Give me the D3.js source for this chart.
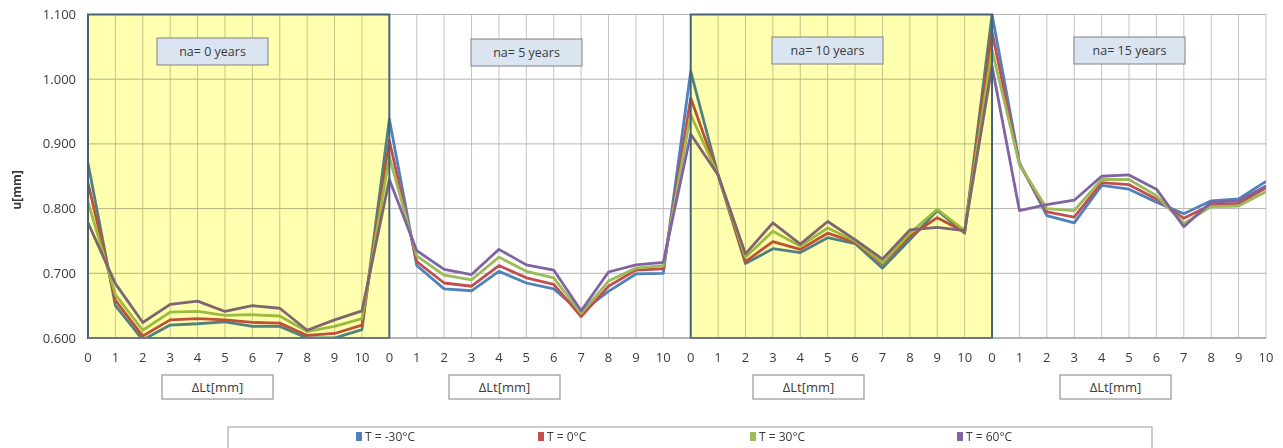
<!DOCTYPE html>
<html>
  <head>
    <meta charset="utf-8" />
    <title>u[mm] vs ΔLt</title>
    <script src="https://d3js.org/d3.v7.min.js"></script>
    <style>
      body { margin: 0; background: #fff; }
      text { font-family: "Open Sans", "Liberation Sans", sans-serif; fill: #3a3a3a; }
    </style>
  </head>
  <body>
    <svg width="1283" height="448"></svg>

    <script>
      // ΔLt tick labels, repeated for each panel
      const xLabels = ["0", "1", "2", "3", "4", "5", "6", "7", "8", "9", "10"];
      const panels = ["na= 0 years", "na= 5 years", "na= 10 years", "na= 15 years"];
      const yTicks = [0.6, 0.7, 0.8, 0.9, 1.0, 1.1];

      // u[mm] for each temperature, 4 panels x 11 points
      const tMinus30 = [
        0.870, 0.650, 0.597, 0.620, 0.622, 0.625, 0.618, 0.618, 0.600, 0.600, 0.613,
        0.938, 0.712, 0.676, 0.673, 0.703, 0.685, 0.676, 0.640, 0.672, 0.699, 0.700,
        1.012, 0.852, 0.715, 0.738, 0.732, 0.755, 0.746, 0.708, 0.752, 0.797, 0.762,
        1.100, 0.871, 0.789, 0.778, 0.836, 0.830, 0.810, 0.792, 0.812, 0.815, 0.842
      ];
      const t0 = [
        0.840, 0.658, 0.603, 0.628, 0.630, 0.628, 0.624, 0.623, 0.604, 0.607, 0.620,
        0.905, 0.718, 0.685, 0.680, 0.712, 0.693, 0.683, 0.633, 0.680, 0.705, 0.707,
        0.971, 0.852, 0.718, 0.749, 0.737, 0.762, 0.748, 0.714, 0.757, 0.786, 0.764,
        1.073, 0.868, 0.795, 0.787, 0.840, 0.837, 0.815, 0.785, 0.806, 0.808, 0.832
      ];
      const t30 = [
        0.810, 0.667, 0.612, 0.640, 0.641, 0.635, 0.636, 0.634, 0.610, 0.618, 0.630,
        0.880, 0.727, 0.697, 0.690, 0.725, 0.703, 0.693, 0.638, 0.688, 0.708, 0.712,
        0.945, 0.852, 0.725, 0.765, 0.742, 0.770, 0.750, 0.716, 0.762, 0.799, 0.766,
        1.045, 0.868, 0.800, 0.797, 0.845, 0.845, 0.820, 0.777, 0.803, 0.804, 0.826
      ];
      const t60 = [
        0.778, 0.684, 0.624, 0.652, 0.657, 0.641, 0.650, 0.646, 0.612, 0.628, 0.642,
        0.845, 0.735, 0.706, 0.698, 0.737, 0.713, 0.705, 0.642, 0.702, 0.713, 0.717,
        0.915, 0.852, 0.730, 0.778, 0.745, 0.780, 0.752, 0.722, 0.767, 0.771, 0.766,
        1.020, 0.797, 0.806, 0.813, 0.850, 0.852, 0.830, 0.772, 0.810, 0.812, 0.835
      ];

      const series = [
        { name: "T = -30°C", values: tMinus30, color: "#4f81bd" },
        { name: "T = 0°C", values: t0, color: "#c0504d" },
        { name: "T = 30°C", values: t30, color: "#9bbb59" },
        { name: "T = 60°C", values: t60, color: "#8064a2" }
      ];

      const svg = d3.select("svg");
      const plotL = 88, plotR = 1266, plotT = 14.5, plotB = 338;
      const n = panels.length * xLabels.length;

      const x = d3.scaleLinear().domain([0, n - 1]).range([plotL, plotR]);
      const y = d3.scaleLinear().domain([0.6, 1.1]).range([plotB, plotT]);

      svg.append("clipPath").attr("id", "plot")
        .append("rect").attr("x", plotL).attr("y", plotT).attr("width", plotR - plotL).attr("height", plotB - plotT);

      // grid
      svg.append("g").selectAll("line")
        .data(d3.range(n))
        .join("line")
        .attr("x1", d => x(d)).attr("x2", d => x(d))
        .attr("y1", plotT).attr("y2", plotB)
        .attr("stroke", "#c4c4c4").attr("stroke-width", 1);

      svg.append("g").selectAll("line")
        .data(yTicks)
        .join("line")
        .attr("x1", plotL).attr("x2", plotR)
        .attr("y1", d => y(d)).attr("y2", d => y(d))
        .attr("stroke", "#b4b4b4").attr("stroke-width", 1);

      // axis labels
      svg.append("g").selectAll("text")
        .data(yTicks)
        .join("text")
        .attr("x", 76).attr("y", d => y(d) + 4.5)
        .attr("text-anchor", "end")
        .style("font-size", "13px")
        .text(d => d3.format(".3f")(d));

      svg.append("g").selectAll("text")
        .data(d3.range(n))
        .join("text")
        .attr("x", d => x(d)).attr("y", 362)
        .attr("text-anchor", "middle")
        .style("font-size", "13px")
        .text(d => xLabels[d % xLabels.length]);

      svg.append("text")
        .attr("transform", "translate(21,190) rotate(-90)")
        .attr("text-anchor", "middle")
        .style("font-size", "12px").style("font-weight", "bold")
        .text("u[mm]");

      // lines
      const line = d3.line().x((d, i) => x(i)).y(d => y(d));
      svg.append("g").attr("clip-path", "url(#plot)")
        .selectAll("path")
        .data(series)
        .join("path")
        .attr("d", d => line(d.values))
        .attr("fill", "none")
        .attr("stroke", d => d.color)
        .attr("stroke-width", 2.8)
        .attr("stroke-linejoin", "round");

      // yellow shading for panels 1 and 3
      const shaded = [0, 2];
      const step = xLabels.length;
      svg.append("g").selectAll("rect")
        .data(shaded)
        .join("rect")
        .attr("x", d => x(d * step)).attr("y", plotT)
        .attr("width", x(step) - x(0)).attr("height", plotB - plotT)
        .attr("fill", "#ffffb0")
        .style("mix-blend-mode", "multiply");
      svg.append("g").selectAll("rect")
        .data(shaded)
        .join("rect")
        .attr("x", d => x(d * step)).attr("y", plotT)
        .attr("width", x(step) - x(0)).attr("height", plotB - plotT)
        .attr("fill", "none")
        .attr("stroke", "#46627a").attr("stroke-width", 2);

      svg.append("line")
        .attr("x1", plotL).attr("x2", plotR).attr("y1", plotB).attr("y2", plotB)
        .attr("stroke", "#8c8c8c").attr("stroke-width", 1);

      // panel titles
      const titleX = [157, 471, 772, 1074];
      const titleY = [38, 39, 37, 37];
      const titles = svg.append("g").selectAll("g")
        .data(panels)
        .join("g")
        .attr("transform", (d, i) => `translate(${titleX[i]},${titleY[i]})`);
      titles.append("rect")
        .attr("width", 111).attr("height", 27)
        .attr("fill", "#dbe5f1").attr("stroke", "#808080");
      titles.append("text")
        .attr("x", 55.5).attr("y", 18)
        .attr("text-anchor", "middle")
        .style("font-size", "12.5px")
        .text(d => d);

      // ΔLt boxes
      const boxX = [162, 449, 753, 1060];
      const boxes = svg.append("g").selectAll("g")
        .data(boxX)
        .join("g")
        .attr("transform", d => `translate(${d},375)`);
      boxes.append("rect")
        .attr("width", 111).attr("height", 24)
        .attr("fill", "#fff").attr("stroke", "#808080");
      boxes.append("text")
        .attr("x", 55.5).attr("y", 17)
        .attr("text-anchor", "middle")
        .style("font-size", "13px")
        .text("ΔLt[mm]");

      // legend
      svg.append("rect")
        .attr("x", 228).attr("y", 427).attr("width", 924).attr("height", 26)
        .attr("fill", "#fff").attr("stroke", "#9a9a9a");
      const legendX = [356, 538, 750, 957];
      const items = svg.append("g").selectAll("g")
        .data(series)
        .join("g")
        .attr("transform", (d, i) => `translate(${legendX[i]},432)`);
      items.append("rect")
        .attr("width", 6).attr("height", 9)
        .attr("fill", d => d.color);
      items.append("text")
        .attr("x", 9).attr("y", 9)
        .style("font-size", "12px")
        .text(d => d.name);
    </script>
  </body>
</html>
